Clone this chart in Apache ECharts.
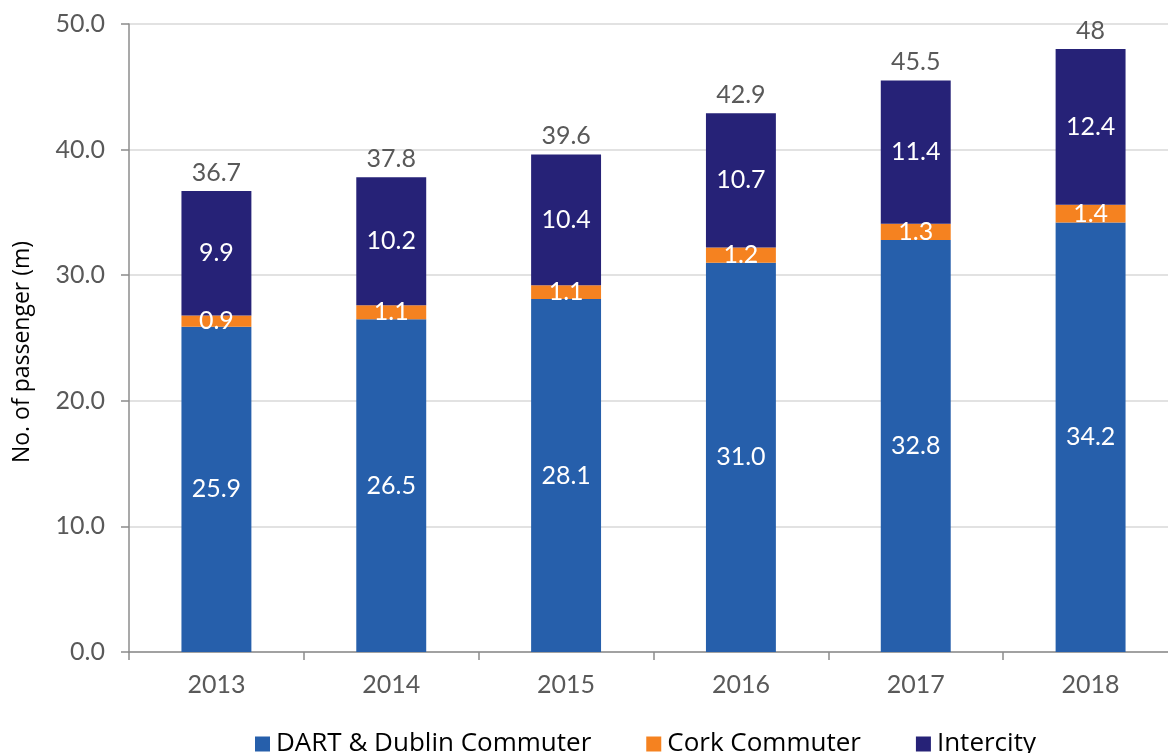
<!DOCTYPE html>
<html>
<head>
<meta charset="utf-8">
<script src="https://cdn.jsdelivr.net/npm/echarts@6/dist/echarts.min.js"></script>
<style>
  html, body { margin: 0; padding: 0; background: #fff; }
  #chart { width: 1168px; height: 753px; }
</style>
</head>
<body>
<div id="chart"></div>
<script>
// Rail passenger journeys by service, millions
const years = ['2013', '2014', '2015', '2016', '2017', '2018'];
const dartDublin = [25.9, 26.5, 28.1, 31.0, 32.8, 34.2];
const cork = [0.9, 1.1, 1.1, 1.2, 1.3, 1.4];
const intercity = [9.9, 10.2, 10.4, 10.7, 11.4, 12.4];
const totals = [36.7, 37.8, 39.6, 42.9, 45.5, 48];
const yTicks = { min: 0, max: 50, interval: 10 };

const FONT = 'Lato';
const SIDE_FONT = 'Open Sans';
const GREY_TEXT = '#595959';

const chart = echarts.init(document.getElementById('chart'));

const innerLabel = {
  show: true,
  position: 'inside',
  color: '#ffffff',
  fontFamily: FONT,
  fontSize: 25,
  formatter: p => p.value.toFixed(1)
};

chart.setOption({
  animation: false,
  textStyle: { fontFamily: FONT },
  // plot area runs slightly past the right edge of the canvas
  grid: {
    left: 129, width: 1049, top: 24, height: 628,
    containLabel: false, outerBoundsMode: 'none'
  },
  legend: {
    bottom: -9,
    left: 250,
    icon: 'rect',
    itemWidth: 15,
    itemHeight: 15,
    itemGap: 55,
    textStyle: { fontFamily: SIDE_FONT, fontSize: 26, color: '#000000', padding: [0, 0, 0, 1] },
    data: ['DART & Dublin Commuter', 'Cork Commuter', 'Intercity']
  },
  xAxis: {
    type: 'category',
    data: years,
    axisLine: { lineStyle: { color: '#8c8c8c', width: 1.5 } },
    axisTick: { show: true, length: 8, lineStyle: { color: '#8c8c8c', width: 1.5 } },
    axisLabel: { color: GREY_TEXT, fontSize: 25, fontFamily: FONT, margin: 20 }
  },
  yAxis: {
    type: 'value',
    min: yTicks.min,
    max: yTicks.max,
    interval: yTicks.interval,
    name: 'No. of passenger (m)',
    nameLocation: 'middle',
    nameGap: 95,
    nameTextStyle: {
      fontFamily: SIDE_FONT, fontSize: 23, color: '#000000',
      padding: [0, 28, 0, 0]
    },
    axisLine: { show: true, lineStyle: { color: '#8c8c8c', width: 1.5 } },
    axisTick: { show: true, length: 8, lineStyle: { color: '#8c8c8c', width: 1.5 } },
    axisLabel: {
      color: GREY_TEXT, fontSize: 25, fontFamily: FONT, margin: 24,
      formatter: v => v.toFixed(1)
    },
    splitLine: { show: true, lineStyle: { color: '#d9d9d9', width: 1.5 } }
  },
  series: [
    {
      name: 'DART & Dublin Commuter',
      type: 'bar',
      stack: 'total',
      barWidth: '40%',
      data: dartDublin,
      itemStyle: { color: '#265fab' },
      label: innerLabel
    },
    {
      name: 'Cork Commuter',
      type: 'bar',
      stack: 'total',
      data: cork,
      itemStyle: { color: '#f58220' },
      label: innerLabel
    },
    {
      name: 'Intercity',
      type: 'bar',
      stack: 'total',
      data: intercity,
      itemStyle: { color: '#262277' },
      label: innerLabel
    },
    {
      // totals printed above each stack
      name: 'Total',
      type: 'bar',
      stack: 'total',
      data: totals.map(() => 0),
      itemStyle: { color: 'transparent' },
      label: {
        show: true,
        position: 'top',
        distance: 6,
        color: GREY_TEXT,
        fontFamily: FONT,
        fontSize: 25,
        formatter: p => String(totals[p.dataIndex])
      },
      tooltip: { show: false }
    }
  ]
});
</script>
</body>
</html>
